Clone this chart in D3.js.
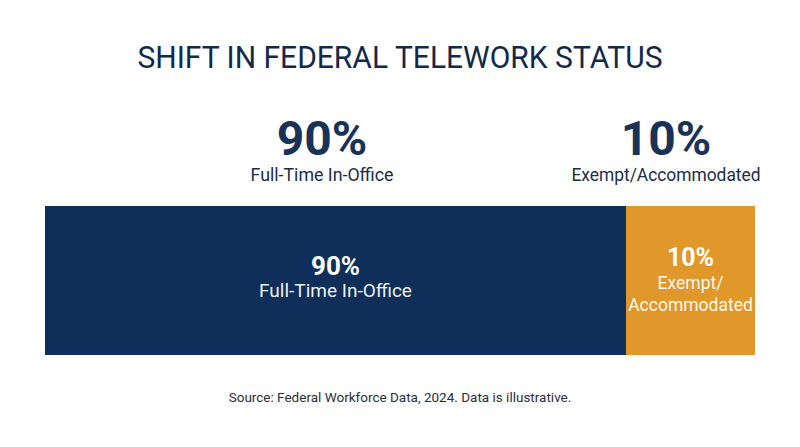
<!DOCTYPE html>
<html><head><meta charset="utf-8">
<script src="https://cdn.jsdelivr.net/npm/d3@7"></script>
<style>body{margin:0;background:#fff}svg{display:block}text{font-family:Roboto,"Liberation Sans",sans-serif}</style>
</head><body><svg id="c" width="800" height="447"></svg>
<script>
const categories = ["Full-Time In-Office", "Exempt/Accommodated"];
const values = [90, 10];
const innerLines = [["Full-Time In-Office"], ["Exempt/", "Accommodated"]];
const colors = ["#0f2f5a", "#e0982a"];
const title = "SHIFT IN FEDERAL TELEWORK STATUS";
const source = "Source: Federal Workforce Data, 2024. Data is illustrative.";

const svg = d3.select("#c");
const W = 800, H = 447;
const barX0 = 45, barX1 = 755, barY = 206, barH = 149;
const minSeg = 129; // minimum segment width so labels fit

svg.append("rect").attr("width", W).attr("height", H).attr("fill", "#fff");

svg.append("text").attr("x", 400).attr("y", 68).attr("text-anchor", "middle")
  .attr("font-size", 31).attr("fill", "#13294b")
  .attr("textLength", 525).attr("lengthAdjust", "spacingAndGlyphs").text(title);

const total = d3.sum(values);
const x = d3.scaleLinear().domain([0, total]).range([barX0, barX1]);
let widths = values.map(v => x(v) - x(0));
const deficit = widths.reduce((s, w) => s + Math.max(0, minSeg - w), 0);
const bigIdx = widths.indexOf(d3.max(widths));
widths = widths.map((w, i) => i === bigIdx ? w - deficit : Math.max(w, minSeg));
let acc = barX0;
const segs = values.map((v, i) => { const s = {v, i, x0: acc, w: widths[i]}; acc += widths[i]; return s; });

svg.selectAll("rect.seg").data(segs).join("rect").attr("class", "seg")
  .attr("x", d => d.x0).attr("y", barY).attr("width", d => d.w).attr("height", barH)
  .attr("fill", d => colors[d.i]);

// top callouts
const topCx = [322, 666];
const topLblW = [143, 189];
const tg = svg.selectAll("g.top").data(segs).join("g").attr("class", "top");
tg.append("text").attr("x", d => topCx[d.i]).attr("y", 155).attr("text-anchor", "middle")
  .attr("font-size", 48).attr("font-weight", 700).attr("fill", "#183258")
  .text(d => d.v + "%");
tg.append("text").attr("x", d => topCx[d.i]).attr("y", 181).attr("text-anchor", "middle")
  .attr("font-size", 18).attr("fill", "#1b2c48")
  .attr("textLength", d => topLblW[d.i]).attr("lengthAdjust", "spacingAndGlyphs")
  .text(d => categories[d.i]);

// inner labels
const ig = svg.selectAll("g.inner").data(segs).join("g").attr("class", "inner");
ig.append("text").attr("x", d => d.x0 + d.w / 2).attr("y", d => d.i === 0 ? 275 : 266)
  .attr("text-anchor", "middle").attr("font-size", d => d.i === 0 ? 26 : 25)
  .attr("font-weight", 700).attr("fill", "#fff")
  .text(d => d.v + "%");
ig.each(function(d) {
  const g = d3.select(this);
  innerLines[d.i].forEach((ln, k) => {
    g.append("text").attr("x", d.x0 + d.w / 2).attr("y", (d.i === 0 ? 297 : 289) + k * 22)
      .attr("text-anchor", "middle").attr("font-size", d.i === 0 ? 19 : 17.5).attr("fill", "#fff")
      .attr("fill-opacity", 0.95).text(ln);
  });
});

svg.append("text").attr("x", 400).attr("y", 402).attr("text-anchor", "middle")
  .attr("font-size", 13.5).attr("fill", "#2a2f3a").text(source);
</script></body></html>
